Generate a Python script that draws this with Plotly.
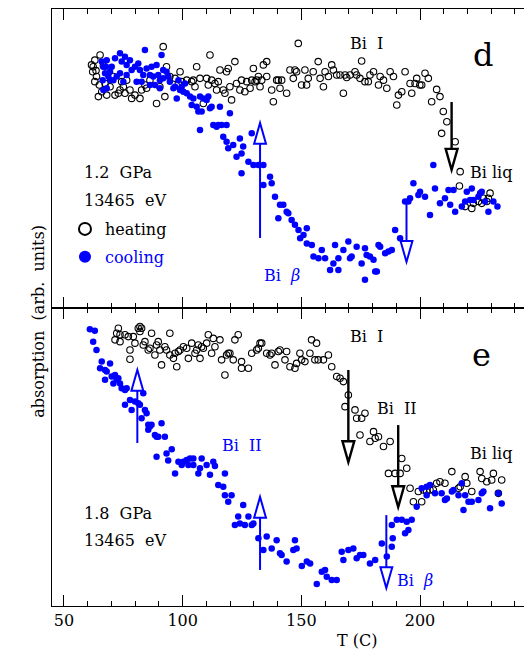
import plotly.graph_objects as go

# ---------------- data: panel d (1.2 GPa) ----------------
d_heat_T = [65.2,63.0,62.3,62.1,63.7,63.0,64.5,65.9,68.0,69.4,71.5,72.9,73.6,75.0,76.4,77.8,78.5,79.9,82.0,82.7,
            84.1,84.8,86.2,89.0,90.4,91.8,92.5,93.2,94.6,96.8,98.2,98.9,99.6,101.7,103.8,104.5,105.2,105.9,107.3,108.7,
            110.1,110.8,111.5,112.2,113.6,114.3,115.0,115.7,117.1,117.8,118.5,119.2,119.9,120.6,122.0,122.7,124.1,124.8,126.2,127.0,
            128.4,129.1,129.8,130.5,131.2,131.9,132.6,133.3,134.0,135.4,135.4,137.5,138.2,139.6,140.3,141.0,141.7,143.8,145.2,146.6,
            147.3,148.0,148.7,150.1,151.5,152.2,152.9,155.0,157.1,157.9,159.3,160.0,161.4,61.6,63.5,66.6,67.3,70.8,74.3,64.9,75.7,
            162.8,163.5,164.9,166.3,167.7,168.4,169.1,170.5,172.6,173.3,174.7,175.4,176.8,178.2,178.9,180.4,182.5,183.2,184.6,186.0,
            187.4,188.8,190.2,190.9,192.3,193.7,195.8,196.5,197.9,198.6,199.9,200.7,202.1,203.5,204.9,207.0,208.4,209.8,211.3,209.1,214.8,
            216.9,216.6,219.0,221.8,222.5,224.6,226.0,226.7,228.8,229.5,228.1]
d_heat_A = [84.6,82.9,80.7,79.0,77.4,75.7,70.7,72.3,71.2,74.0,71.2,71.8,72.9,74.0,76.2,72.9,70.1,71.2,70.1,72.9,
            74.6,73.5,76.2,68.4,74.0,87.4,70.7,80.7,77.4,76.8,75.1,79.0,75.7,76.2,75.7,76.2,74.0,80.7,76.8,68.4,
            76.8,74.6,84.6,76.2,75.1,72.9,75.7,79.6,72.9,71.8,79.0,80.1,74.0,69.6,82.4,75.1,72.9,76.2,72.3,75.7,
            73.5,76.2,80.1,75.7,76.2,77.4,74.0,76.2,81.3,77.4,82.4,72.9,69.0,76.2,76.2,73.5,76.2,71.8,79.6,76.8,
            79.6,79.0,88.5,74.6,79.6,74.6,76.8,79.0,82.4,76.8,74.0,79.0,77.4,81.3,79.4,81.0,75.1,77.4,75.7,74.6,71.8,
            81.3,79.6,77.9,77.9,71.8,77.9,77.1,77.9,79.0,77.9,76.8,82.6,75.7,75.7,77.9,79.0,74.6,77.4,76.2,73.5,
            79.0,77.4,67.9,71.2,72.3,79.0,75.1,71.8,75.1,76.8,74.6,74.6,78.5,76.8,69.0,73.1,70.7,65.7,62.3,58.4,55.6,
            45.6,40.8,33.9,33.3,35.0,35.6,35.0,36.7,36.7,38.4,35.6]

d_cool_T = [65.9,66.6,67.3,68.0,68.0,66.6,69.4,69.4,70.1,70.8,71.5,72.2,73.6,73.6,74.3,75.0,75.7,76.4,76.4,77.8,
            78.5,79.9,80.6,81.3,82.0,82.7,83.4,84.1,84.8,86.2,86.2,86.9,87.6,88.3,89.0,89.7,90.4,90.4,91.1,91.8,
            91.8,93.2,93.9,94.6,96.1,96.8,97.5,98.2,98.9,99.6,100.3,101.0,101.7,103.1,103.8,104.5,105.9,106.6,107.3,108.0,
            108.7,110.1,110.8,111.5,112.2,112.9,114.3,115.0,115.7,116.4,118.5,119.9,107.3,117.1,124.1,129.1,66.3,67.7,68.7,
            118.5,119.2,121.3,122.7,124.8,125.5,124.8,127.7,129.8,131.9,
            134.0,134.0,136.8,137.5,138.9,140.3,141.0,142.4,143.8,144.5,145.9,147.3,148.8,149.5,150.9,152.3,152.3,154.4,155.1,157.2,
            158.6,160.0,162.1,163.5,164.2,165.6,165.6,167.7,169.8,170.5,171.2,173.3,175.4,176.8,176.8,177.5,178.9,180.4,181.1,181.8,
            182.5,183.2,185.3,186.7,188.1,189.5,191.6,193.7,195.1,195.8,197.2,199.3,200.0,202.1,204.2,205.6,206.3,208.4,210.5,212.0,
            212.7,214.1,214.8,217.6,219.0,219.7,221.1,221.8,222.5,224.6,225.3,226.0,227.4,228.8,230.9,232.6]
d_cool_A = [82.4,80.7,78.5,82.9,73.5,72.9,79.0,76.2,80.7,76.2,83.5,77.4,85.2,78.5,82.4,75.7,84.0,81.3,77.9,82.9,
            79.6,80.7,75.7,81.8,79.6,75.7,77.9,86.3,80.1,77.9,74.6,80.7,77.4,74.6,81.3,77.9,76.2,73.5,84.6,79.6,
            76.8,79.0,77.4,75.7,73.5,74.0,70.1,76.2,72.9,74.0,72.3,75.1,71.8,70.7,67.9,70.1,67.3,65.7,70.7,65.7,
            70.1,69.6,70.7,66.8,67.3,61.2,60.6,61.2,67.3,61.2,61.2,65.1,59.5,57.3,56.7,58.4,76.2,80.7,77.4,
            55.6,53.4,54.5,50.6,51.7,54.0,45.1,48.9,47.8,47.8,
            47.8,41.1,43.9,41.7,37.2,30.0,34.5,34.5,32.2,31.7,29.4,27.8,26.1,23.3,24.4,26.7,21.6,21.1,17.2,16.6,
            19.4,16.6,12.7,14.9,21.1,12.7,16.6,19.4,22.2,16.6,17.2,20.5,14.9,9.4,20.0,17.7,17.2,16.1,12.2,12.2,
            21.1,20.5,18.3,18.9,19.4,26.1,23.3,35.6,35.6,36.7,41.7,37.8,38.9,37.2,31.1,47.8,40.0,35.0,36.7,39.5,
            34.5,39.5,32.2,33.9,35.6,38.9,36.1,40.0,36.1,37.2,38.4,38.9,35.6,32.2,35.6,33.9]

# ---------------- data: panel e (1.8 GPa) ----------------
e_heat_T = [72.9,72.2,73.6,71.5,73.6,75.7,77.1,77.8,77.8,79.2,79.9,81.3,82.0,82.7,82.0,83.4,84.1,85.5,86.2,86.9,
            88.3,89.0,89.7,90.4,91.1,92.5,93.2,94.6,94.6,96.1,96.8,97.5,98.2,98.9,100.3,101.7,102.4,103.8,105.2,105.9,
            106.6,107.3,108.0,108.7,110.1,110.8,112.2,112.9,113.6,115.7,116.4,117.8,118.5,119.2,119.9,121.3,122.0,123.4,124.8,124.8,
            127.7,129.1,131.2,131.9,132.6,133.3,135.4,136.8,137.5,138.9,140.3,141.0,143.1,143.8,145.2,147.3,148.0,149.4,150.1,151.5,
            153.6,154.3,155.7,156.4,157.1,159.3,161.4,
            162.8,164.9,166.3,167.7,169.8,168.4,172.6,173.3,175.4,176.8,174.7,178.9,180.4,181.1,182.5,184.6,187.4,
            192.3,186.7,189.5,191.6,194.4,195.8,197.2,199.3,200.7,201.4,202.8,204.2,205.6,207.0,208.4,210.5,213.4,216.2,216.9,219.0,
            219.7,221.8,225.3,226.0,228.1,230.2,230.9,233.0,234.4]
e_heat_A = [93.2,91.5,91.0,89.3,88.7,91.0,90.4,85.9,82.8,90.4,88.2,93.2,93.8,93.2,92.1,87.6,88.7,85.9,86.5,91.5,
            84.2,87.6,88.7,85.9,80.9,87.0,85.9,91.5,84.2,83.1,84.8,80.3,85.4,85.9,87.0,86.5,83.1,88.2,84.8,85.9,
            87.6,83.1,87.0,86.5,88.2,91.0,84.8,89.8,87.0,89.3,82.6,77.5,84.2,84.8,84.8,82.6,89.3,91.0,82.0,79.8,
            79.8,84.8,85.9,86.5,88.2,88.2,84.8,84.2,84.8,80.9,85.4,85.9,82.6,85.4,80.3,79.8,81.4,84.8,82.6,82.0,
            84.8,89.3,82.6,88.2,82.6,82.6,84.2,
            80.3,77.0,76.4,75.3,70.8,66.9,65.8,63.0,63.0,64.7,57.4,55.2,58.5,56.3,56.8,53.5,55.2,
            49.5,44.5,44.5,44.5,46.2,39.5,35.0,38.4,35.0,38.9,38.4,38.9,38.9,41.2,41.7,41.2,45.1,39.5,40.0,43.4,
            41.2,38.4,45.1,42.8,41.7,42.3,44.5,37.8,42.3]

e_cool_T = [60.9,63.0,62.3,63.7,65.9,65.2,67.3,69.4,68.0,67.3,70.1,70.8,71.5,72.2,72.9,73.6,74.3,75.7,76.4,77.8,
            75.7,78.5,79.9,81.3,82.0,83.4,82.7,84.1,84.8,85.5,86.2,85.5,86.9,88.3,89.0,89.7,91.1,92.5,
            89.0,93.2,95.4,93.9,96.8,98.2,99.6,100.3,101.7,102.4,103.1,104.5,104.5,106.6,107.3,108.0,110.1,111.5,112.9,113.6,
            115.0,117.1,117.8,117.8,119.2,120.6,122.0,123.4,124.1,125.5,126.2,127.7,129.1,129.8,131.9,
            134.0,135.4,137.5,139.6,141.0,141.7,143.8,146.6,147.3,148.0,150.2,152.3,153.7,156.5,158.6,160.0,160.7,162.8,164.9,167.0,
            167.7,169.8,171.9,173.3,174.7,176.1,178.9,181.1,183.9,186.0,188.1,188.5,188.1,190.2,192.3,194.4,196.5,193.7,195.1,198.6,
            200.7,202.8,202.8,204.2,206.3,209.1,210.5,211.3,213.4,214.1,216.2,217.6,218.3,219.0,220.4,221.8,224.6,226.0,226.7,229.5,
            233.0,234.4]
e_cool_A = [92.9,92.4,88.7,85.9,82.0,79.8,79.2,81.4,78.7,75.9,77.0,74.7,77.5,75.9,76.4,74.7,73.1,72.5,73.1,69.1,
            67.5,65.8,68.6,68.0,67.5,71.4,63.0,65.8,64.7,60.8,60.2,59.1,60.8,57.4,56.8,56.8,61.3,56.8,
            50.1,51.2,52.6,48.8,44.5,48.4,47.3,48.4,49.0,47.3,49.5,49.5,47.3,44.5,46.2,49.5,47.3,44.0,48.4,47.0,
            40.6,40.0,44.5,37.2,35.0,37.2,27.2,30.0,27.7,33.9,27.2,30.0,27.2,27.7,22.7,
            18.8,23.3,19.3,22.1,17.7,17.1,14.9,18.8,22.1,19.3,13.4,14.9,14.3,7.4,11.5,12.1,9.8,8.7,8.7,18.2,
            15.4,18.8,19.3,16.0,17.1,17.1,14.3,15.4,21.0,16.6,19.9,22.7,27.2,28.9,28.9,28.3,28.9,24.4,25.5,33.3,
            39.5,37.2,40.0,40.6,37.8,37.8,35.6,36.1,38.4,38.9,37.2,41.2,32.2,37.2,35.0,35.0,35.6,37.8,38.4,32.8,
            37.8,34.4]

# arrows: (panel, T, start, tip, colour)
arrows = [("d", 132.6, 23.4, 61.9, "blue"), ("d", 213.3, 68.9, 46.2, "black"), ("d", 194.3, 35.5, 15.4, "blue"),
          ("e", 80.9, 54.7, 79.2, "blue"), ("e", 169.8, 79.2, 48.3, "black"), ("e", 132.6, 12.1, 36.6, "blue"),
          ("e", 190.8, 60.7, 33.2, "black"), ("e", 185.8, 30.5, 6.0, "blue")]

# labels: (panel, T, A, text, colour, size, xanchor)
labels = [("d", 177.6, 88.6, "Bi  I", "black", 16, "center"),
          ("d", 226.5, 84.6, "d", "black", 32, "center"),
          ("d", 220.2, 45.2, "Bi liq", "black", 16, "left"),
          ("d", 141.8, 11.0, "Bi  <i>β</i>", "blue", 16, "center"),
          ("d", 57.6, 45.2, "1.2  GPa", "black", 16, "left"),
          ("d", 57.6, 36.1, "13465  eV", "black", 16, "left"),
          ("e", 177.6, 90.3, "Bi  I", "black", 16, "center"),
          ("e", 226.1, 84.2, "e", "black", 32, "center"),
          ("e", 190.3, 66.4, "Bi  II", "black", 16, "center"),
          ("e", 220.2, 51.3, "Bi liq", "black", 16, "left"),
          ("e", 125.0, 54.0, "Bi  II", "blue", 16, "center"),
          ("e", 189.4, 8.7, "Bi  <i>β</i>", "blue", 16, "left"),
          ("e", 57.6, 31.2, "1.8  GPa", "black", 16, "left"),
          ("e", 57.6, 22.1, "13465  eV", "black", 16, "left")]

FONT = "DejaVu Serif"
BLUE = "#0000ff"

fig = go.Figure()
open_m = dict(symbol="circle-open", size=6.5, color="black", line=dict(width=1.1, color="black"))
fill_m = dict(symbol="circle", size=6.5, color=BLUE)

fig.add_trace(go.Scatter(x=d_heat_T, y=d_heat_A, mode="markers", marker=open_m, name="heating",
                         legendgroup="h", xaxis="x2", yaxis="y2"))
fig.add_trace(go.Scatter(x=d_cool_T, y=d_cool_A, mode="markers", marker=fill_m,
                         name="<span style='color:#0000ff'>cooling</span>", legendgroup="c", xaxis="x2", yaxis="y2"))
fig.add_trace(go.Scatter(x=e_heat_T, y=e_heat_A, mode="markers", marker=open_m, showlegend=False,
                         xaxis="x", yaxis="y"))
fig.add_trace(go.Scatter(x=e_cool_T, y=e_cool_A, mode="markers", marker=fill_m, showlegend=False,
                         xaxis="x", yaxis="y"))

HW, HH = 2.5, 7.0
shapes = []
for panel, T, a0, a1, col in arrows:
    yr = "y2" if panel == "d" else "y"
    xr = "x2" if panel == "d" else "x"
    s = 1 if a1 > a0 else -1
    base = a1 - s * HH
    lw = 2.4 if col == "black" else 2
    shapes.append(dict(type="line", xref=xr, yref=yr, x0=T, x1=T, y0=a0, y1=base,
                       line=dict(color=col, width=lw)))
    shapes.append(dict(type="path", xref=xr, yref=yr,
                       path=f"M {T-HW},{base} L {T},{a1} L {T+HW},{base} Z",
                       line=dict(color=col, width=lw), fillcolor="rgba(0,0,0,0)"))

annotations = []
for panel, T, A, txt, col, sz, xa in labels:
    annotations.append(dict(xref="x2" if panel == "d" else "x", yref="y2" if panel == "d" else "y",
                            x=T, y=A, text=txt, showarrow=False, xanchor=xa, yanchor="middle",
                            font=dict(family=FONT, size=sz, color=col)))
annotations.append(dict(xref="paper", yref="paper", x=-0.053, y=0.477, text="absorption  (arb.  units)",
                        textangle=-90, showarrow=False, font=dict(family=FONT, size=16, color="black")))
annotations.append(dict(xref="paper", yref="paper", x=0.646, y=-0.057, text="T (C)", showarrow=False,
                        yanchor="middle", font=dict(family=FONT, size=16, color="black")))

xcommon = dict(range=[44.95, 243.8], showline=True, linecolor="black", linewidth=1.3, mirror="ticks",
               ticks="inside", ticklen=11, tickwidth=1.3, tickcolor="black", tickvals=[50, 100, 150, 200],
               minor=dict(dtick=10, tick0=50, ticks="inside", ticklen=5, tickwidth=1, tickcolor="black"),
               showgrid=False, zeroline=False, tickfont=dict(family=FONT, size=16, color="black"))
ycommon = dict(range=[0, 100], showline=True, linecolor="black", linewidth=1.3, mirror=False, ticks="",
               showticklabels=False, showgrid=False, zeroline=False)

fig.update_layout(
    width=524, height=650, margin=dict(l=52, r=0, t=9, b=44),
    paper_bgcolor="white", plot_bgcolor="white",
    xaxis=dict(**xcommon, anchor="y"),
    xaxis2=dict(**xcommon, anchor="y2", matches="x", showticklabels=False),
    yaxis=dict(**ycommon, domain=[0, 0.4992]),
    yaxis2=dict(**ycommon, domain=[0.4992, 1]),
    shapes=shapes, annotations=annotations,
    showlegend=True,
    legend=dict(x=0.0275, y=0.66, xanchor="left", yanchor="top", itemsizing="constant",
                tracegroupgap=4, bgcolor="rgba(0,0,0,0)", borderwidth=0,
                font=dict(family=FONT, size=16, color="black")),
)

fig.write_html("out.html")
